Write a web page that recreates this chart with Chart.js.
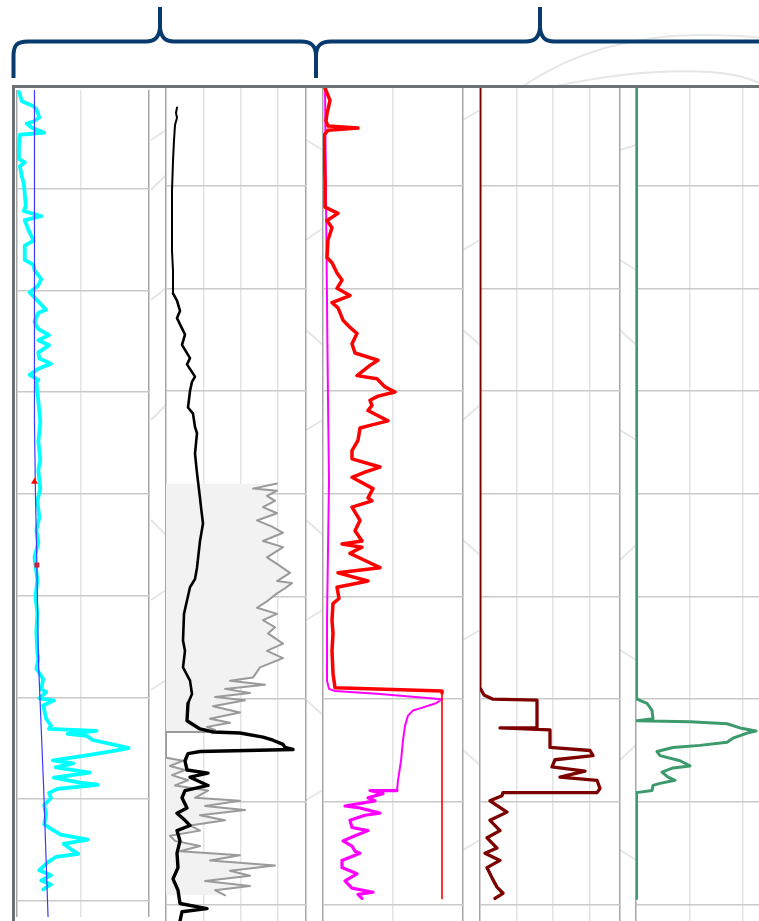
<!DOCTYPE html>
<html>
<head>
<meta charset="utf-8">
<title>Log tracks</title>
<script src="https://cdn.jsdelivr.net/npm/chart.js@4.4.1/dist/chart.umd.min.js"></script>
<style>
  html, body { margin: 0; padding: 0; background: #fff; overflow: hidden; }
  #page { position: relative; width: 759px; height: 921px; overflow: hidden; }
  #braces { position: absolute; left: 0; top: 0; }
  .track { position: absolute; top: 86px; }
  .frame { position: absolute; background: #6d7277; }
</style>
</head>
<body>
<div id="page">
  <svg id="braces" width="759" height="921">
    <g fill="none" stroke="#e6e6e6" stroke-width="2">
      <path d="M523,86 Q600,35 700,35 Q740,35 762,38"/>
      <path d="M557,86 Q640,68 710,72 Q740,74 762,84"/>
      <path d="M151,140 L166,130 M151,190 L166,175 M151,300 L166,288 M151,420 L166,405 M151,520 L166,535 M151,600 L166,590 M151,690 L166,680"/>
      <path d="M306,140 L323,150 M306,240 L323,228 M306,330 L323,345 M306,430 L323,420 M306,520 L323,535 M306,620 L323,610 M306,700 L323,715 M306,800 L323,790"/>
      <path d="M463,120 L480,110 M463,250 L480,240 M463,330 L480,345 M463,420 L480,405 M463,540 L480,555 M463,640 L480,630 M463,750 L480,765 M463,850 L480,840"/>
      <path d="M620,150 L636,145 M620,260 L636,270 M620,330 L636,345 M620,430 L636,440 M620,560 L636,545 M620,650 L636,660 M620,760 L636,745 M620,850 L636,860"/>
    </g>
    <g fill="none" stroke="#083a6e" stroke-width="4" stroke-linejoin="round">
      <path d="M13.5,78 L13.5,56 C13.5,45 17,41.5 28,41.5 L146,41.5 C155,41.5 159,37 160,28 L160,7"/>
      <path d="M160,7 L160,28 C161,37 165,41.5 174,41.5 L301,41.5 C312,41.5 316,46 316,56 L316,78"/>
      <path d="M316,56 C316,46 320,41.5 331,41.5 L526,41.5 C535,41.5 539,37 540,28 L540,7"/>
      <path d="M540,7 L540,28 C541,37 545,41.5 554,41.5 L765,41.5"/>
    </g>
  </svg>
  <canvas id="track1" class="track" style="left:13px" width="140" height="835"></canvas>
  <canvas id="track2" class="track" style="left:164px" width="144" height="835"></canvas>
  <canvas id="track3" class="track" style="left:321px" width="144" height="835"></canvas>
  <canvas id="track4" class="track" style="left:478px" width="144" height="835"></canvas>
  <canvas id="track5" class="track" style="left:634px" width="127" height="835"></canvas>
  <div class="frame" style="left:12px;top:85px;width:760px;height:3px"></div>
  <div class="frame" style="left:12px;top:85px;width:3px;height:840px"></div>
</div>
<script>
// depth range shown (grid every 100)
const DEPTH_TOP = 3;
const DEPTH_BASE = 816;

// track 1: gamma ray + trend line + picks
const grDepth = [5,14,19,22,30,34,36,40,45,47,
  59,71,74,78,88,95,105,117,122,127,
  131,141,151,156,170,175,180,189,195,202,
  207,219,222,231,238,244,249,254,261,267,
  272,277,283,288,290,309,329,349,366,377,
  395,407,423,436,448,462,485,501,517,536,
  556,562,572,582,592,595,601,603,608,621,
  628,631,633,636,638,642,647,650,653,657,
  662,665,669,674,679,684,686,690,694,699,
  706,715,725,731,735,740,744,749,754,757,
  762,770,775,780,784,789];
const grValue = [2,5,17,20,23,17,10,15,28,3,
  2,2,8,3,5,7,8,9,7,25,
  8,12,17,8,8,17,18,25,22,13,
  18,30,22,18,22,33,22,33,22,23,
  35,22,13,22,20,22,24,22,24,22,
  24,21,23,20,22,18,21,19,21,20,
  21,22,20,27,25,30,23,38,27,30,
  35,33,82,52,72,78,102,115,98,72,
  37,58,40,75,38,65,83,42,33,35,
  28,30,28,38,45,73,48,55,63,40,
  32,23,35,25,35,27];
const trendDepth = [3,330,400,470,562,690,816];
const trendValue = [18,18,19,20.5,22,27.5,32];
const pickDepth = [388,470];
const pickValue = [18,20.5];

// track 2: resistivity (black) + porosity (grey, shaded)
const resDepth = [24,29,34,41,56,76,105,134,163,183,
  205,212,222,229,239,245,255,268,274,286,
  291,300,316,322,335,341,361,380,404,413,
  429,446,472,483,491,504,517,543,553,569,
  582,595,604,621,629,632,633,637,640,644,
  647,649,651,653,660,669,672,676,684,689,
  696,706,711,718,723,728,738,750,764,775,
  786,799,804,807,816];
const resValue = [11,10,11,9,8,7,6,6,6,7,
  7,11,14,11,16,19,16,24,21,29,
  26,24,22,27,29,31,29,31,34,35,
  37,34,31,29,24,21,18,17,19,17,
  24,26,22,21,34,47,74,97,107,117,
  119,127,34,22,19,21,42,24,42,19,
  16,21,11,19,24,11,14,11,12,7,
  12,14,41,16,14];
const porDepth = [390,395,397,402,407,413,419,426,432,438,
  446,452,462,469,477,485,487,492,497,504,
  511,517,523,530,536,546,553,560,569,579,
  582,586,590,594,598,601,607,613,619,623,
  627,630,632,632,657,660,665,669,674,679,
  684,689,696,699,704,708,713,718,723,728,
  733,738,743,748,752,757,762,767,772,777,
  782,786,791];
const porValue = [111,87,111,101,109,97,111,91,106,117,
  97,117,101,112,124,111,126,119,111,102,
  91,111,97,109,102,117,101,117,94,87,
  64,99,59,84,49,79,47,74,44,64,
  41,49,41,0,0,17,4,19,6,22,
  9,42,29,74,39,79,34,59,24,34,
  4,9,34,14,74,44,109,64,84,39,
  84,49,59];

// track 3: red + magenta curves
const redDepth = [5,17,30,37,42,44,46,51,63,95,
  121,127,134,141,153,170,175,185,192,200,
  207,214,219,231,238,244,254,263,270,275,
  285,288,296,301,305,309,314,319,329,333,
  336,348,358,366,374,379,384,395,404,407,
  413,426,436,446,449,452,458,465,472,477,
  485,491,502,507,523,536,553,575,589,592,
  594,794];
const redValue = [2,7,4,3,5,35,5,1,1,2,
  2,15,4,9,5,4,9,14,19,14,
  27,9,15,20,27,34,29,32,55,47,
  34,54,62,72,55,47,49,45,65,49,
  37,35,29,29,57,42,29,50,45,49,
  29,37,32,39,19,39,27,42,57,15,
  45,14,16,10,9,10,9,10,12,119,
  119,119];
const magDepth = [3,114,212,309,387,455,523,582,590,592,
  595,600,604,609,611,616,626,640,660,679,
  689,689,692,696,699,704,706,711,713,718,
  725,728,733,738,743,748,750,757,764,770,
  777,784,788,790,794];
const magValue = [2,3,4,5,6,5,4,4,6,12,
  57,119,113,97,90,85,82,80,78,75,
  74,47,60,45,52,22,37,57,42,27,
  29,45,32,20,29,32,37,19,19,34,
  22,29,50,35,39];

// track 4: maroon curve
const marDepth = [3,212,590,596,600,601,628,628,630,647,
  650,655,659,666,670,676,679,687,691,691,
  694,699,710,718,728,735,745,750,757,764,
  774,783,789,794];
const marValue = [0.5,0.5,0.5,4,13,57,57,20,70,70,
  110,113,75,72,105,80,117,120,117,23,
  22,10,27,10,20,7,17,5,20,7,
  12,17,23,15];

// track 5: green curve
const grnDepth = [3,597,600,604,611,619,621,622,624,628,
  631,633,638,642,645,647,651,655,660,665,
  667,671,676,679,682,684,689,691,794];
const grnValue = [0.5,0.5,1,11,16,17,1,54,91,104,
  120,111,97,91,64,37,21,24,44,54,
  37,26,32,39,24,17,16,0.5,0.5];

function pts(depths, values) {
  return depths.map(function(d, i) { return { x: values[i], y: d }; });
}

// white track background so the watermark only shows in the gaps
var trackBg = {
  id: 'trackBg',
  beforeDraw: function(chart) {
    var a = chart.chartArea, ctx = chart.ctx;
    ctx.save();
    ctx.fillStyle = '#ffffff';
    ctx.fillRect(a.left, a.top, a.right - a.left, a.bottom - a.top);
    ctx.restore();
  }
};

function trackChart(id, xMax, gridAt, datasets) {
  return new Chart(document.getElementById(id), {
    type: 'line',
    data: { datasets: datasets },
    plugins: [trackBg],
    options: {
      indexAxis: 'y',
      responsive: false,
      animation: false,
      events: [],
      layout: { padding: { left: 2, right: 2, top: 0, bottom: 0 } },
      plugins: { legend: { display: false }, tooltip: { enabled: false } },
      elements: {
        point: { radius: 0 },
        line: { tension: 0, borderJoinStyle: 'round', borderCapStyle: 'round' }
      },
      scales: {
        x: {
          type: 'linear', min: 0, max: xMax,
          afterBuildTicks: function(s) { s.ticks = gridAt.map(function(v) { return { value: v }; }); },
          ticks: { display: false },
          border: { display: false },
          grid: {
            drawTicks: false,
            color: function(c) { return (c.tick.value === 0 || c.tick.value === xMax) ? '#a6a6a6' : '#e4e4e4'; },
            lineWidth: 1.5
          }
        },
        y: {
          type: 'linear', reverse: true, min: DEPTH_TOP, max: DEPTH_BASE,
          ticks: { display: false, stepSize: 100, includeBounds: false },
          border: { display: false },
          grid: { drawTicks: false, color: '#c9c9c9', lineWidth: 1.5 }
        }
      }
    }
  });
}

trackChart('track1', 136, [0, 66, 136], [
  { label: 'Picks', data: pts(pickDepth, pickValue), showLine: false,
    pointStyle: ['triangle', 'rect'], pointRadius: [4, 3.5],
    pointBackgroundColor: ['#ff0000', '#d81b3c'], pointBorderWidth: 0 },
  { label: 'Trend', data: pts(trendDepth, trendValue), borderColor: '#3a3aff', borderWidth: 1.2 },
  { label: 'GR', data: pts(grDepth, grValue), borderColor: '#00ffff', borderWidth: 3.8 }
]);

trackChart('track2', 140, [0, 38, 75, 112, 140], [
  { label: 'RES', data: pts(resDepth, resValue), borderColor: '#000000', borderWidth: 2.5,
    segment: { borderWidth: function(c) { return c.p0.parsed.y < 200 ? 2 : (c.p0.parsed.y < 600 ? 2.6 : 3.4); } } },
  { label: 'POR', data: pts(porDepth, porValue), borderColor: '#9a9a9a', borderWidth: 2,
    fill: 'origin', backgroundColor: '#f2f2f2' }
]);

trackChart('track3', 140, [0, 70, 140], [
  { label: 'Red', data: pts(redDepth, redValue), borderColor: '#ff0000', borderWidth: 3.5,
    segment: { borderWidth: function(c) { return c.p0.parsed.y >= 593.5 ? 1.6 : 3.5; } } },
  { label: 'Magenta', data: pts(magDepth, magValue), borderColor: '#ff00ff', borderWidth: 2,
    segment: { borderWidth: function(c) { return c.p0.parsed.y >= 689 ? 3.2 : 2; } } }
]);

trackChart('track4', 140, [0, 37, 73, 110, 140], [
  { label: 'Maroon', data: pts(marDepth, marValue), borderColor: '#7d0000', borderWidth: 2,
    segment: { borderWidth: function(c) { return c.p0.parsed.y >= 590 ? 3.3 : 2; } } }
]);

trackChart('track5', 123, [0, 54, 107], [
  { label: 'Green', data: pts(grnDepth, grnValue), borderColor: '#3c9a6c', borderWidth: 3 }
]);
</script>
</body>
</html>
